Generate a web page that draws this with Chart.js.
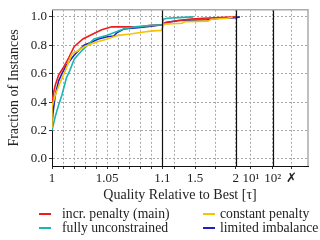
<!DOCTYPE html>
<html>
<head>
<meta charset="utf-8">
<script src="https://cdn.jsdelivr.net/npm/chart.js@4/dist/chart.umd.min.js"></script>
<style>
body { margin: 0; background: #fff; }
#wrap { position: relative; width: 320px; height: 240px; }
#legend { position: absolute; left: 0; top: 0; width: 320px; height: 240px; pointer-events: none;
  font: 13.7px "Liberation Serif", serif; color: #222; }
.item { position: absolute; white-space: nowrap; line-height: 14px; }
.mark { position: absolute; top: 6px; width: 12px; height: 2px; }
</style>
</head>
<body>
<div id="wrap">
  <canvas id="perfChart" width="320" height="240"></canvas>
  <div id="legend"></div>
</div>
<script>
// series data (tau = quality relative to best)
const redTau  = [1, 1.001, 1.003, 1.006, 1.01, 1.015, 1.02, 1.028, 1.037, 1.045, 1.054, 1.065, 1.08, 1.09, 1.1, 1.15, 1.3, 1.45, 1.6, 1.8, 2.1];
const redFrac = [0.36, 0.45, 0.52, 0.59, 0.64, 0.71, 0.79, 0.845, 0.88, 0.91, 0.93, 0.93, 0.93, 0.94, 0.945, 0.96, 0.975, 0.985, 0.99, 0.995, 1.0];

const yellowTau  = [1, 1, 1.003, 1.007, 1.012, 1.015, 1.018, 1.023, 1.029, 1.039, 1.05, 1.06, 1.071, 1.08, 1.089, 1.099, 1.104, 1.12, 1.17, 1.34, 1.38, 1.66, 1.7, 1.9, 1.96];
const yellowFrac = [0.22, 0.37, 0.45, 0.53, 0.62, 0.68, 0.74, 0.76, 0.79, 0.82, 0.845, 0.87, 0.88, 0.89, 0.9, 0.905, 0.93, 0.95, 0.95, 0.955, 0.967, 0.97, 0.984, 0.99, 1.0];

const tealTau  = [1, 1.003, 1.006, 1.009, 1.013, 1.016, 1.02, 1.022, 1.028, 1.038, 1.05, 1.06, 1.065, 1.075, 1.09, 1.1, 1.105, 1.112, 1.16, 1.3, 1.48];
const tealFrac = [0.2, 0.3, 0.38, 0.45, 0.57, 0.62, 0.7, 0.72, 0.77, 0.845, 0.87, 0.9, 0.915, 0.93, 0.94, 0.945, 0.97, 0.984, 0.99, 0.995, 1.0];

const blueTau  = [1, 1.001, 1.003, 1.006, 1.009, 1.013, 1.016, 1.02, 1.025, 1.029, 1.035, 1.042, 1.05, 1.056, 1.059, 1.065, 1.08, 1.09, 1.1, 1.104, 1.14, 1.3, 1.65, 1.8, 2.0, 3.1];
const blueFrac = [0.25, 0.33, 0.45, 0.55, 0.6, 0.66, 0.69, 0.73, 0.77, 0.8, 0.82, 0.845, 0.86, 0.865, 0.89, 0.915, 0.925, 0.935, 0.945, 0.95, 0.96, 0.975, 0.98, 0.99, 0.995, 1.0];

// axis ticks
const xTickTau    = [1, 1.01, 1.02, 1.03, 1.04, 1.05, 1.06, 1.07, 1.08, 1.09, 1.1, 1.25, 1.5, 1.75, 2, 10, 100];
const xTickLabels = ['1', '', '', '', '', '1.05', '', '', '', '', '1.1', '', '1.5', '', '2', '10\u00b9', '10\u00b2'];
const xSolidTau   = [1.1, 2, 100];
const yTicks      = [0, 0.2, 0.4, 0.6, 0.8, 1.0];

// piecewise x axis: linear [1,1.1], linear [1.1,2], log [2,100], then the fail column
const SEG1 = 110.6, SEG2 = 73.4, SEG3 = 37, FAIL_U = 239.3, X_MAX = 256.3;
function toU(t) {
  if (t <= 1.1) return (t - 1) / 0.1 * SEG1;
  if (t <= 2) return SEG1 + (t - 1.1) / 0.9 * SEG2;
  return SEG1 + SEG2 + Math.log(t / 2) / Math.log(50) * SEG3;
}

function series(label, color, taus, fracs) {
  return {
    label: label,
    data: taus.map((t, i) => ({ x: toU(t), y: fracs[i] })),
    borderColor: color,
    backgroundColor: color,
    borderWidth: 1.6,
    pointRadius: 0,
    showLine: true,
    tension: 0
  };
}

const datasets = [
  series('constant penalty', '#f5c400', yellowTau, yellowFrac),
  series('fully unconstrained', '#1cb5b2', tealTau, tealFrac),
  series('incr. penalty (main)', '#ee1c1c', redTau, redFrac),
  series('limited imbalance', '#2020bb', blueTau, blueFrac)
];

const tickFont = { family: '"Liberation Serif", serif', size: 13 };
const titleFont = { family: '"Liberation Serif", serif', size: 14 };

// black separators and gray top/right frame
const framePlugin = {
  id: 'frame',
  afterDatasetsDraw(chart) {
    const ctx = chart.ctx, a = chart.chartArea, xs = chart.scales.x;
    ctx.save();
    ctx.strokeStyle = '#111';
    ctx.lineWidth = 1.2;
    xSolidTau.forEach(t => {
      const px = Math.round(xs.getPixelForValue(toU(t))) + 0.5;
      ctx.beginPath();
      ctx.moveTo(px, a.top);
      ctx.lineTo(px, a.bottom);
      ctx.stroke();
    });
    ctx.strokeStyle = '#aaa';
    ctx.lineWidth = 1.5;
    ctx.beginPath();
    ctx.moveTo(a.left, a.top);
    ctx.lineTo(a.right, a.top);
    ctx.lineTo(a.right, a.bottom);
    ctx.stroke();
    ctx.restore();
  }
};

const gridOpts = { color: '#a8a8a8', lineWidth: 1, tickLength: 3, tickColor: '#333' };
const borderOpts = { color: '#111', width: 1, dash: [2, 2] };

new Chart(document.getElementById('perfChart'), {
  type: 'scatter',
  data: { datasets: datasets },
  options: {
    responsive: false,
    animation: false,
    layout: { padding: { left: 0, right: 12, top: 7, bottom: 36 } },
    plugins: { legend: { display: false }, tooltip: { enabled: false } },
    scales: {
      x: {
        type: 'linear',
        min: 0,
        max: X_MAX,
        afterBuildTicks: s => {
          s.ticks = xTickTau.map(t => ({ value: toU(t) })).concat([{ value: FAIL_U }]);
        },
        afterFit: s => { s.height = 38; },
        ticks: {
          autoSkip: false,
          maxRotation: 0,
          padding: 2,
          color: '#222',
          font: tickFont,
          callback: (v, i) => i < xTickLabels.length ? xTickLabels[i] : '\u2717'
        },
        grid: gridOpts,
        border: borderOpts,
        title: { display: true, text: 'Quality Relative to Best [\u03c4]', color: '#222', font: titleFont, padding: 0 }
      },
      y: {
        min: -0.05,
        max: 1.05,
        afterBuildTicks: s => { s.ticks = yTicks.map(v => ({ value: v })); },
        afterFit: s => { s.width = 52; },
        ticks: { color: '#222', font: tickFont, padding: 2, callback: v => v.toFixed(1) },
        grid: gridOpts,
        border: borderOpts,
        title: { display: true, text: 'Fraction of Instances', color: '#222', font: titleFont, padding: { top: 6, bottom: 0 } }
      }
    }
  },
  plugins: [framePlugin]
});

// legend in two columns, built from the datasets
const legendOrder = ['incr. penalty (main)', 'constant penalty', 'fully unconstrained', 'limited imbalance'];
const legendSlots = [[39, 207], [203, 207], [39, 221], [203, 221]];
const legend = document.getElementById('legend');
legendOrder.forEach((name, i) => {
  const ds = datasets.find(d => d.label === name);
  const item = document.createElement('div');
  item.className = 'item';
  item.style.left = legendSlots[i][0] + 'px';
  item.style.top = legendSlots[i][1] + 'px';
  item.innerHTML = '<span class="mark" style="left:0;background:' + ds.borderColor + '"></span>' +
    '<span style="margin-left:' + (i % 2 ? 17 : 23) + 'px">' + name + '</span>';
  legend.appendChild(item);
});
</script>
</body>
</html>
